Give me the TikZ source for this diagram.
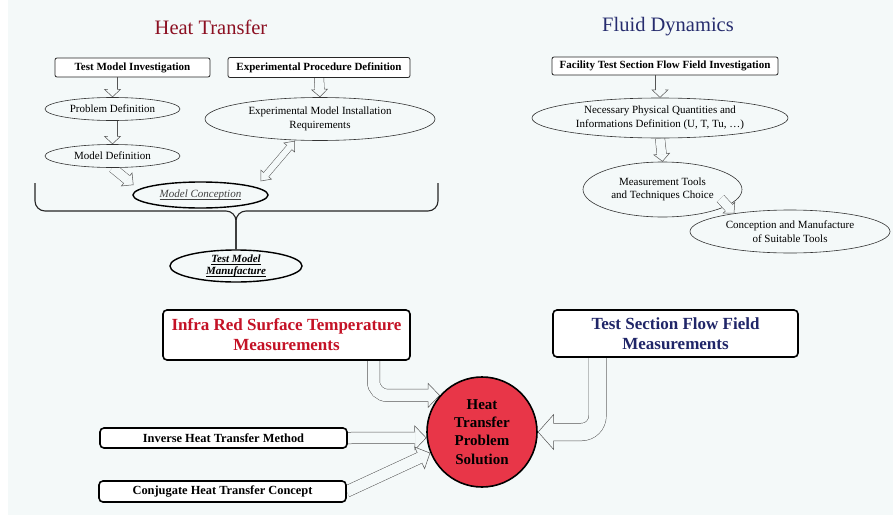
\documentclass[tikz,border=0pt]{standalone}
\usepackage{fontspec}
\setmainfont{Liberation Serif}
\usepackage{tikz}
\usetikzlibrary{arrows.meta}
\usetikzlibrary{shapes.geometric}
\usepackage{xcolor}
\definecolor{ColBg}{RGB}{244,249,249}
\definecolor{ColLine}{RGB}{85,85,85}
\definecolor{ColHT}{RGB}{140,16,34}
\definecolor{ColFD}{RGB}{38,44,110}
\definecolor{ColIR}{RGB}{196,18,38}
\definecolor{ColTS}{RGB}{32,38,104}
\definecolor{ColSol}{RGB}{232,54,72}
\newcommand{\UlText}[1]{{\setbox0\hbox{#1}\rlap{\vrule height -1.4pt depth 2pt width\wd0}\box0}}
\pgfdeclarelayer{back}
\pgfdeclarelayer{links}
\pgfsetlayers{back,links,main}
\tikzstyle{Title}=[font=\fontsize{20.5}{24}\selectfont]
\tikzstyle{StepBox}=[draw=black!85,fill=white,rounded corners=2pt,line width=.8pt,inner sep=0pt,
font=\fontsize{11}{13}\selectfont\bfseries]
\tikzstyle{StepEll}=[ellipse,draw=black!80,fill=ColBg,line width=.6pt,inner sep=0pt,align=center,
font=\fontsize{11}{13.5}\selectfont]
\tikzstyle{KeyEll}=[StepEll,draw=black,line width=1.4pt]
\tikzstyle{MainBox}=[draw=black,fill=white,rounded corners=4pt,line width=1.6pt,inner sep=0pt,align=center,
font=\fontsize{17}{20}\selectfont\bfseries]
\tikzstyle{SideBox}=[MainBox,font=\fontsize{12.4}{14}\selectfont\bfseries]
\tikzstyle{Goal}=[circle,draw=black,fill=ColSol,line width=1.6pt,inner sep=0pt,minimum size=110pt,align=center,
font=\fontsize{15}{18.3}\selectfont\bfseries]
\tikzstyle{Brace}=[black!85,line width=1.1pt,rounded corners=10pt]
\tikzset{
  HollowArrow/.style n args={3}{draw=ColLine,line width=.5pt,
    -{Triangle[length=#3,width=#2,fill=ColBg]},
    postaction={draw=ColLine,-,line width=#1,shorten >=#3},
    postaction={draw=ColBg,-,line width=#1-1pt,shorten >=#3-1pt}},
  HollowBoth/.style n args={3}{draw=ColLine,line width=.5pt,
    {Triangle[length=#3,width=#2,fill=ColBg]}-{Triangle[length=#3,width=#2,fill=ColBg]},
    postaction={draw=ColLine,-,line width=#1,shorten >=#3,shorten <=#3},
    postaction={draw=ColBg,-,line width=#1-1pt,shorten >=#3-1pt,shorten <=#3-1pt}}
}

\begin{document}
\begin{tikzpicture}[x=1pt,y=-1pt]
        \useasboundingbox(0,0)rectangle(893,522);
        \begin{pgfonlayer}{back}
        \fill[white](0,0)rectangle(893,522);
        \fill[ColBg](8,0)rectangle(893,515);
        \end{pgfonlayer}
        \node[Title,text=ColHT](ht)at(211,27){Heat Transfer};
        \node[Title,text=ColFD](fd)at(668,27){Fluid Dynamics};
        \node[StepBox,minimum width=155,minimum height=19](tmi)at(132.5,67.5){Test Model Investigation};
        \node[StepBox,minimum width=182,minimum height=20](epd)at(319,67.5){Experimental Procedure Definition};
        \node[StepEll,minimum width=135,minimum height=23](pd)at(112.5,109){Problem Definition};
        \node[StepEll,minimum width=135,minimum height=23](md)at(112.5,156){Model Definition};
        \node[KeyEll,minimum width=135,minimum height=26,text=black!75,font=\fontsize{11}{13}\selectfont\itshape](mc)at(200.5,195){\UlText{Model Conception}};
        \node[StepEll,minimum width=230,minimum height=43](emir)at(320,119){Experimental Model Installation\\Requirements};
        \node[KeyEll,minimum width=132,minimum height=32,font=\fontsize{11}{11.5}\selectfont\bfseries\itshape](tmm)at(236,266){\UlText{Test Model}\\\UlText{Manufacture}};
        \node[StepBox,minimum width=226,minimum height=18](fts)at(665,66){Facility Test Section Flow Field Investigation};
        \node[StepEll,minimum width=256,minimum height=40](npq)at(660,118){Necessary Physical Quantities and\\Informations Definition (U, T, Tu, \ldots)};
        \node[StepEll,minimum width=159,minimum height=55](mtt)at(662.5,189.5){Measurement Tools\\and Techniques Choice};
        \node[StepEll,minimum width=200,minimum height=43](cms)at(790,231.5){Conception and Manufacture\\of Suitable Tools};
        \node[MainBox,minimum width=247,minimum height=50,text=ColIR](ir)at(286.5,335){Infra Red Surface Temperature\\Measurements};
        \node[MainBox,minimum width=245,minimum height=47,text=ColTS](ts)at(675.5,333.5){Test Section Flow Field\\Measurements};
        \node[Goal](sol)at(482,432){Heat\\Transfer\\Problem\\Solution};
        \node[SideBox,minimum width=247,minimum height=20](inv)at(223.5,438){Inverse Heat Transfer Method};
        \node[SideBox,minimum width=247,minimum height=21](conj)at(222.5,491.5){Conjugate Heat Transfer Concept};
        \draw[Brace](35,183)--++(0,28)-|(tmm.north);
        \draw[Brace](438,183)--++(0,28)-|(tmm.north);
        \begin{pgfonlayer}{links}
        \draw[HollowArrow={10pt}{17pt}{8pt}](tmi.south -| pd.north)--(pd.north);
        \draw[HollowArrow={10pt}{17pt}{8pt}](pd.south)--(md.north);
        \draw[HollowArrow={10pt}{18pt}{9pt}](md.south)--([shift={(-67,-10)}]mc.center);
        \draw[HollowArrow={10pt}{17pt}{8pt}](epd.south)--(emir.north);
        \draw[HollowArrow={10pt}{17pt}{8pt}](fts.south -| npq.north)--(npq.north);
        \draw[HollowArrow={10pt}{17pt}{8pt}](npq.south)--(mtt.north);
        \draw[HollowArrow={13pt}{25pt}{12pt},rounded corners=14pt]([xshift=87pt]ir.south)|-(sol.139);
        \draw[HollowArrow={12pt}{25pt}{12pt}](inv.east)--(sol.186);
        \draw[HollowArrow={12pt}{25pt}{12pt}](conj.east)--(sol.202);
        \draw[HollowArrow={18pt}{36pt}{16pt},rounded corners=16pt]([xshift=-78pt]ts.south)|-(sol.east);
        \end{pgfonlayer}
        \draw[HollowBoth={7pt}{15pt}{9pt}]([xshift=-25pt]emir.south)--([xshift=60pt]mc.north);
        \draw[HollowArrow={10pt}{17pt}{8pt}]([shift={(58,9)}]mtt.center)--(cms.162);
    \end{tikzpicture}
\end{document}
